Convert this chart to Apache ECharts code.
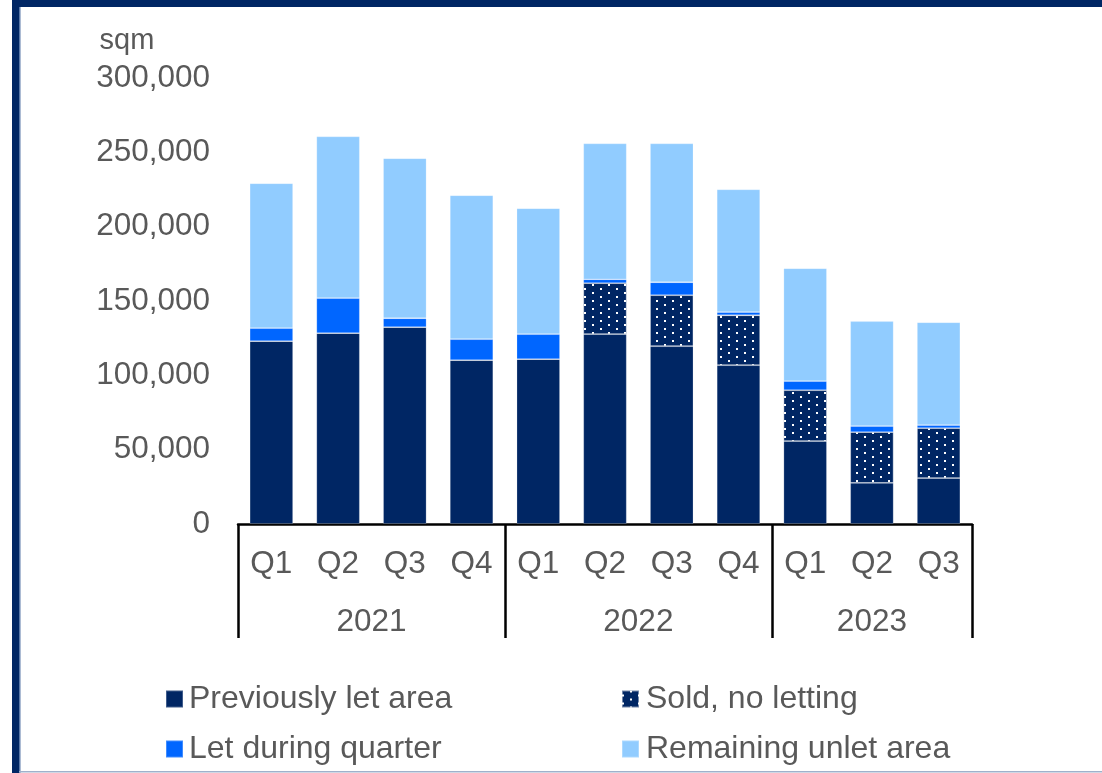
<!DOCTYPE html>
<html>
<head>
<meta charset="utf-8">
<title>Vacant area by quarter</title>
<script src="https://cdn.jsdelivr.net/npm/echarts@6/dist/echarts.min.js"></script>
<style>
  html, body { margin: 0; padding: 0; background: #ffffff; }
  #chart { width: 1102px; height: 773px; }
</style>
</head>
<body>
<div id="chart"></div>
<script>
// Quarter labels along the bottom axis, grouped by year
const quarters = ['Q1', 'Q2', 'Q3', 'Q4', 'Q1', 'Q2', 'Q3', 'Q4', 'Q1', 'Q2', 'Q3'];
const years = ['2021', '2022', '2023'];
const quartersPerYear = [4, 4, 3];

// Area in sqm, stacked bottom to top
const previouslyLet = [123000, 128400, 132400, 110200, 110900, 127700, 119600, 106800, 55800, 27600, 30900];
const soldNoLetting = [0, 0, 0, 0, 0, 34300, 34300, 33600, 34200, 34200, 33600];
const letDuringQuarter = [8700, 23500, 6000, 14100, 16800, 2600, 8700, 2100, 6100, 4100, 2000];
const remainingUnlet = [97500, 108800, 107600, 96800, 84700, 91400, 93400, 82600, 75900, 70500, 69200];

const yTicks = [0, 50000, 100000, 150000, 200000, 250000, 300000];

// Year group boundaries and centres, in category index units
const groupEdges = [-0.5];
const groupCentres = [];
quartersPerYear.forEach(function (n) {
  const start = groupEdges[groupEdges.length - 1];
  groupCentres.push(start + n / 2);
  groupEdges.push(start + n);
});

const TEXT = '#595959';
const FONT = 'Liberation Sans, Arial, sans-serif';
const NAVY = '#002664';
const segBorder = { borderColor: 'rgba(255,255,255,0.25)', borderWidth: 0.8 };

const chart = echarts.init(document.getElementById('chart'), null, { renderer: 'canvas' });

chart.setOption({
  animation: false,
  backgroundColor: '#ffffff',
  textStyle: { fontFamily: FONT },
  grid: { left: 238, right: 130, top: 78, bottom: 249, containLabel: false },
  legend: [
    {
      orient: 'vertical', left: 160, top: 678, itemWidth: 17, itemHeight: 17, itemGap: 18,
      icon: 'rect', selectedMode: false,
      textStyle: { color: TEXT, fontSize: 32, lineHeight: 31, fontFamily: FONT, padding: [0, 0, 0, 1] },
      data: ['Previously let area', 'Let during quarter']
    },
    {
      orient: 'vertical', left: 616, top: 678, itemWidth: 17, itemHeight: 17, itemGap: 18,
      icon: 'rect', selectedMode: false,
      textStyle: { color: TEXT, fontSize: 32, lineHeight: 31, fontFamily: FONT, padding: [0, 0, 0, 2] },
      data: ['Sold, no letting', 'Remaining unlet area']
    }
  ],
  xAxis: [
    {
      type: 'category',
      data: quarters,
      boundaryGap: true,
      axisLine: { show: true, lineStyle: { color: '#000000', width: 2.5 } },
      axisTick: { show: false },
      axisLabel: { color: TEXT, fontSize: 31.5, fontFamily: FONT, margin: 24, interval: 0 },
      splitLine: { show: false }
    },
    {
      type: 'value',
      position: 'bottom',
      min: -0.5,
      max: quarters.length - 0.5,
      axisLine: { show: false },
      splitLine: { show: false },
      axisTick: {
        show: true, customValues: groupEdges, length: 114, inside: false,
        lineStyle: { color: '#000000', width: 2.5 }
      },
      axisLabel: {
        show: true, customValues: groupCentres, color: TEXT, fontSize: 31.5, fontFamily: FONT, margin: 82,
        formatter: function (v) {
          const i = groupCentres.findIndex(function (c) { return Math.abs(c - v) < 1e-6; });
          return i >= 0 ? years[i] : '';
        }
      }
    }
  ],
  yAxis: {
    type: 'value',
    min: 0,
    max: yTicks[yTicks.length - 1],
    interval: yTicks[1] - yTicks[0],
    name: 'sqm',
    nameLocation: 'end',
    nameGap: 37,
    nameTextStyle: { color: TEXT, fontSize: 29, fontFamily: FONT, align: 'right', verticalAlign: 'middle', padding: [0, 117, 0, 0] },
    axisLine: { show: false },
    axisTick: { show: false },
    splitLine: { show: false },
    axisLabel: {
      color: TEXT, fontSize: 31.5, fontFamily: FONT, margin: 28,
      formatter: function (v) { return v.toLocaleString('en-US'); }
    }
  },
  series: [
    {
      name: 'Previously let area', type: 'bar', stack: 'area', barWidth: '65%',
      itemStyle: Object.assign({ color: NAVY }, segBorder),
      data: previouslyLet
    },
    {
      name: 'Sold, no letting', type: 'bar', stack: 'area', barWidth: '65%',
      itemStyle: Object.assign({
        color: NAVY,
        decal: {
          symbol: 'rect', symbolSize: 1, color: '#ffffff',
          dashArrayX: [[2, 14], [0, 8, 2, 6]],
          dashArrayY: [2, 2],
          rotation: 0
        }
      }, segBorder),
      data: soldNoLetting
    },
    {
      name: 'Let during quarter', type: 'bar', stack: 'area', barWidth: '65%',
      itemStyle: Object.assign({ color: '#0066FF' }, segBorder),
      data: letDuringQuarter
    },
    {
      name: 'Remaining unlet area', type: 'bar', stack: 'area', barWidth: '65%',
      itemStyle: Object.assign({ color: '#91CCFF' }, segBorder),
      data: remainingUnlet
    }
  ],
  graphic: [
    { type: 'rect', silent: true, shape: { x: 12, y: 0, width: 7, height: 773 }, style: { fill: NAVY } },
    { type: 'rect', silent: true, shape: { x: 19, y: 0, width: 1.5, height: 773 }, style: { fill: '#5a78a8' } },
    { type: 'rect', silent: true, shape: { x: 12, y: 0, width: 1090, height: 7 }, style: { fill: NAVY } },
    { type: 'rect', silent: true, shape: { x: 19, y: 771, width: 1083, height: 1.5 }, style: { fill: '#9fb1cb' } }
  ]
});
</script>
</body>
</html>
